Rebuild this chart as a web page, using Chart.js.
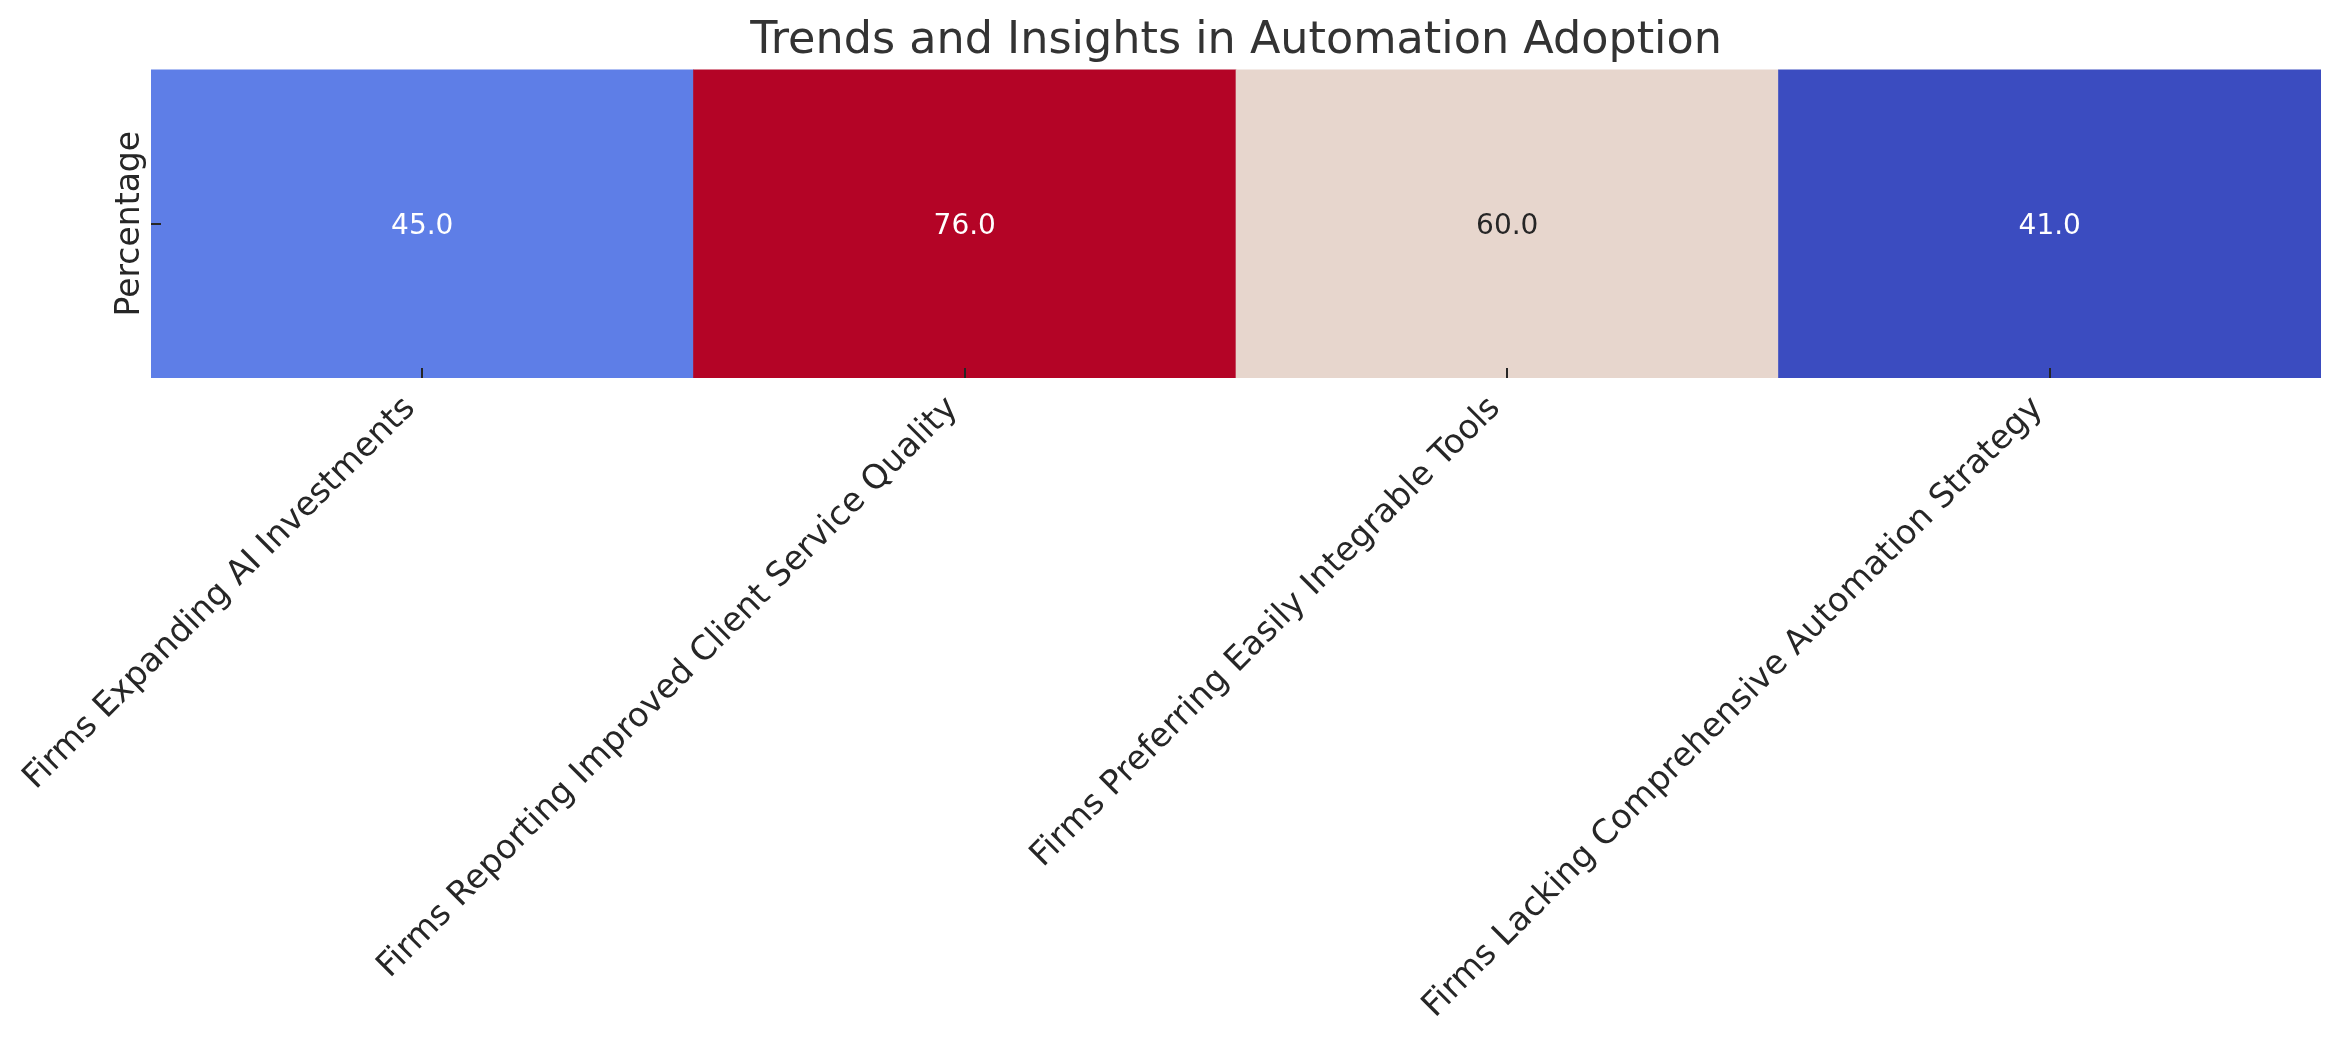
<!DOCTYPE html>
<html>
<head>
<meta charset="utf-8">
<script src="https://cdn.jsdelivr.net/npm/chart.js@4.4.1/dist/chart.umd.min.js"></script>
<style>
  html, body { margin: 0; padding: 0; background: #fff; }
  #wrap { width: 2341px; height: 1038px; }
</style>
</head>
<body>
<div id="wrap"><canvas id="grafico" width="2341" height="1038"></canvas></div>
<script>
const categorias = [
    'Firms Expanding AI Investments',
    'Firms Reporting Improved Client Service Quality',
    'Firms Preferring Easily Integrable Tools',
    'Firms Lacking Comprehensive Automation Strategy'
];
const valores = [45.0, 76.0, 60.0, 41.0];
const filas = ['Percentage'];
const titulo = 'Trends and Insights in Automation Adoption';

// coolwarm (matplotlib) anclas: [posicion, r, g, b]
const coolwarm = [
    [0.0, 59, 76, 192], [0.0625, 77, 104, 215], [0.125, 98, 130, 234],
    [0.25, 141, 176, 254], [0.375, 184, 208, 249], [0.5, 221, 221, 221],
    [0.5625, 236, 211, 197], [0.625, 245, 196, 173], [0.75, 244, 154, 123],
    [0.875, 222, 96, 77], [1.0, 180, 4, 38]
];
const vmin = Math.min(...valores);
const vmax = Math.max(...valores);

const colorDe = (v) => {
    const t = (v - vmin) / (vmax - vmin);
    let i = 0;
    while (i < coolwarm.length - 2 && t > coolwarm[i + 1][0]) i++;
    const a = coolwarm[i];
    const b = coolwarm[i + 1];
    const f = (t - a[0]) / (b[0] - a[0]);
    return [1, 2, 3].map((k) => Math.round(a[k] + (b[k] - a[k]) * f));
};
const rgb = (c) => `rgb(${c[0]}, ${c[1]}, ${c[2]})`;

// texto claro u oscuro segun luminancia de la celda (como seaborn)
const textoDe = (c) => {
    const lin = c.map((x) => {
        x = x / 255;
        return x <= 0.03928 ? x / 12.92 : Math.pow((x + 0.055) / 1.055, 2.4);
    });
    const lum = 0.2126 * lin[0] + 0.7152 * lin[1] + 0.0722 * lin[2];
    return lum > 0.408 ? '#262626' : '#ffffff';
};

const fuente = "'DejaVu Sans', sans-serif";

// centro el titulo sobre el area del grafico
const tituloCentrado = {
    id: 'tituloCentrado',
    afterLayout(chart) {
        const t = chart.titleBlock;
        if (!t) return;
        t.left = chart.chartArea.left;
        t.right = chart.chartArea.right;
        t.width = t.right - t.left;
    }
};

// anotaciones y marcas de ticks hacia adentro
const anotaciones = {
    id: 'anotaciones',
    afterDatasetsDraw(chart) {
        const ctx = chart.ctx;
        const meta = chart.getDatasetMeta(0);
        const area = chart.chartArea;
        ctx.save();
        ctx.font = `28px ${fuente}`;
        ctx.textAlign = 'center';
        ctx.textBaseline = 'middle';
        meta.data.forEach((bar, i) => {
            const c = colorDe(valores[i]);
            ctx.fillStyle = textoDe(c);
            ctx.fillText(valores[i].toFixed(1), bar.x, (area.top + area.bottom) / 2 + 3);
        });
        ctx.strokeStyle = '#262626';
        ctx.lineWidth = 2;
        const xs = chart.scales.x;
        categorias.forEach((cat, i) => {
            const px = Math.round(xs.getPixelForTick(i));
            ctx.beginPath();
            ctx.moveTo(px, area.bottom);
            ctx.lineTo(px, area.bottom - 10);
            ctx.stroke();
        });
        const ymid = Math.round(chart.scales.y.getPixelForValue(0.5));
        ctx.beginPath();
        ctx.moveTo(area.left, ymid);
        ctx.lineTo(area.left + 10, ymid);
        ctx.stroke();
        ctx.restore();
    }
};

const colores = valores.map((v) => rgb(colorDe(v)));

new Chart(document.getElementById('grafico'), {
    type: 'bar',
    data: {
        labels: categorias,
        datasets: [{
            label: filas[0],
            // cada celda ocupa toda la fila
            data: valores.map(() => 1),
            backgroundColor: colores,
            borderWidth: 0,
            barPercentage: 1,
            categoryPercentage: 1,
        }]
    },
    options: {
        responsive: false,
        animation: false,
        layout: { padding: { left: 0, right: 20, top: 0, bottom: 0 } },
        plugins: {
            legend: { display: false },
            tooltip: { enabled: false },
            title: {
                display: true,
                text: titulo,
                color: '#333333',
                font: { family: fuente, size: 44.5, weight: 'normal' },
                padding: { top: 15, bottom: 1 }
            }
        },
        scales: {
            x: {
                grid: { display: false },
                border: { display: false },
                ticks: {
                    color: '#262626',
                    font: { family: fuente, size: 33.5 },
                    maxRotation: 45,
                    minRotation: 45,
                    autoSkip: false,
                    padding: 3,
                    labelOffset: -12
                },
                afterFit: (scale) => { scale.height = 660; }
            },
            y: {
                min: 0,
                max: 1,
                grid: { display: false },
                border: { display: false },
                ticks: { display: false },
                title: {
                    display: true,
                    text: filas[0],
                    color: '#262626',
                    font: { family: fuente, size: 33 },
                    padding: { top: 111, bottom: 0 }
                },
                afterFit: (scale) => { scale.width = 151; }
            }
        }
    },
    plugins: [tituloCentrado, anotaciones]
});
</script>
</body>
</html>
